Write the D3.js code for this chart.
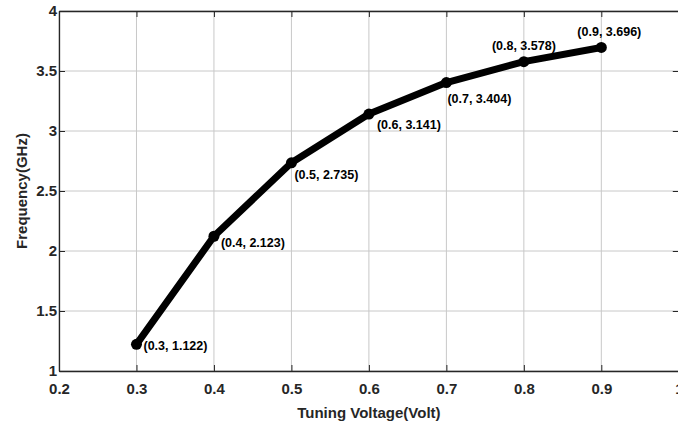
<!DOCTYPE html>
<html>
<head>
<meta charset="utf-8">
<script src="https://cdn.jsdelivr.net/npm/d3@7"></script>
<style>
  body { margin: 0; background: #fff; }
  svg { display: block; font-family: "Liberation Sans", Arial, sans-serif; }
</style>
</head>
<body>
<svg id="chart"></svg>
<script>
const voltages = [0.3, 0.4, 0.5, 0.6, 0.7, 0.8, 0.9];
const freqs = [1.222, 2.123, 2.735, 3.141, 3.404, 3.578, 3.696];
const labels = ['(0.3, 1.122)', '(0.4, 2.123)', '(0.5, 2.735)', '(0.6, 3.141)',
  '(0.7, 3.404)', '(0.8, 3.578)', '(0.9, 3.696)'];
const xTicks = [0.2, 0.3, 0.4, 0.5, 0.6, 0.7, 0.8, 0.9, 1];
const yTicks = [1, 1.5, 2, 2.5, 3, 3.5, 4];

// label offsets from each point: [dx, dy, anchor]
const labelPos = [
  [7, 6, 'start'], [7, 11, 'start'], [3, 16, 'start'], [8, 15, 'start'],
  [1, 20, 'start'], [0, -12, 'middle'], [8, -11, 'middle']
];

const width = 678;
const height = 426;
const plot = {left: 59, right: 678.8, top: 11, bottom: 371};

const x = d3.scaleLinear().domain([0.2, 1]).range([plot.left, plot.right]);
const y = d3.scaleLinear().domain([1, 4]).range([plot.bottom, plot.top]);

const chart = d3.select('#chart')
  .attr('width', width)
  .attr('height', height);

// grid
chart.append('g')
  .selectAll('line')
  .data(xTicks)
  .enter()
  .append('line')
  .attr('x1', d => x(d)).attr('x2', d => x(d))
  .attr('y1', plot.top).attr('y2', plot.bottom)
  .attr('stroke', '#c8c8c8').attr('stroke-width', 1);

chart.append('g')
  .selectAll('line')
  .data(yTicks)
  .enter()
  .append('line')
  .attr('y1', d => y(d)).attr('y2', d => y(d))
  .attr('x1', plot.left).attr('x2', plot.right)
  .attr('stroke', '#c8c8c8').attr('stroke-width', 1);

function styleAxis(g) {
  g.select('.domain').attr('stroke', '#262626').attr('stroke-width', 1.3);
  g.selectAll('.tick line').attr('stroke', '#262626');
  g.selectAll('.tick text')
    .attr('fill', '#262626')
    .attr('font-size', 15)
    .attr('font-weight', 'bold');
}

chart.append('g')
  .attr('transform', `translate(0, ${plot.bottom})`)
  .call(d3.axisBottom(x).tickValues(xTicks).tickFormat(d3.format('')).tickSizeInner(-6).tickSizeOuter(0).tickPadding(12))
  .call(styleAxis);

chart.append('g')
  .attr('transform', `translate(0, ${plot.top})`)
  .call(d3.axisTop(x).tickValues(xTicks).tickFormat('').tickSizeInner(-6).tickSizeOuter(0))
  .call(styleAxis);

chart.append('g')
  .attr('transform', `translate(${plot.left}, 0)`)
  .call(d3.axisLeft(y).tickValues(yTicks).tickFormat(d3.format('')).tickSizeInner(-6).tickSizeOuter(0).tickPadding(2))
  .call(styleAxis);

chart.append('g')
  .attr('transform', `translate(${plot.right}, 0)`)
  .call(d3.axisRight(y).tickValues(yTicks).tickFormat('').tickSizeInner(-6).tickSizeOuter(0))
  .call(styleAxis);

chart.selectAll('.domain').attr('fill', 'none');

const data = voltages.map((v, i) => ({v, f: freqs[i], label: labels[i], pos: labelPos[i]}));

chart.append('path')
  .datum(data)
  .attr('fill', 'none')
  .attr('stroke', '#000')
  .attr('stroke-width', 7)
  .attr('stroke-linejoin', 'round')
  .attr('d', d3.line().x(d => x(d.v)).y(d => y(d.f)));

chart.append('g')
  .selectAll('circle')
  .data(data)
  .enter()
  .append('circle')
  .attr('cx', d => x(d.v))
  .attr('cy', d => y(d.f))
  .attr('r', 5.5)
  .attr('fill', '#000');

chart.append('g')
  .selectAll('text')
  .data(data)
  .enter()
  .append('text')
  .attr('x', d => x(d.v) + d.pos[0])
  .attr('y', d => y(d.f) + d.pos[1])
  .attr('text-anchor', d => d.pos[2])
  .attr('font-size', 12.5)
  .attr('font-weight', 'bold')
  .attr('fill', '#000')
  .text(d => d.label);

chart.append('text')
  .attr('x', (plot.left + plot.right) / 2)
  .attr('y', 418)
  .attr('text-anchor', 'middle')
  .attr('font-size', 15)
  .attr('font-weight', 'bold')
  .attr('fill', '#262626')
  .text('Tuning Voltage(Volt)');

chart.append('text')
  .attr('transform', `translate(27, ${(plot.top + plot.bottom) / 2}) rotate(-90)`)
  .attr('text-anchor', 'middle')
  .attr('font-size', 15)
  .attr('font-weight', 'bold')
  .attr('fill', '#262626')
  .text('Frequency(GHz)');
</script>
</body>
</html>
